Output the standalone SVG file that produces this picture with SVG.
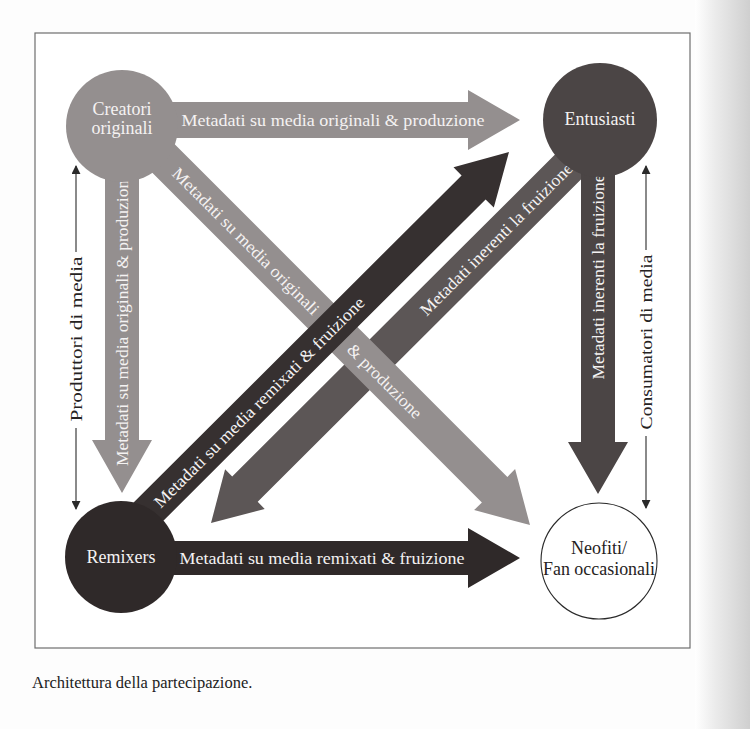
<svg xmlns="http://www.w3.org/2000/svg" width="750" height="729" viewBox="0 0 750 729">
  <defs>
    <linearGradient id="gutter" x1="0" y1="0" x2="1" y2="0">
      <stop offset="0" stop-color="#ffffff"/>
      <stop offset="0.35" stop-color="#ececec"/>
      <stop offset="1" stop-color="#cfcfcf"/>
    </linearGradient>
    <marker id="tri" viewBox="0 0 10 10" refX="9" refY="5" markerWidth="9" markerHeight="9" markerUnits="userSpaceOnUse" orient="auto">
      <path d="M0,0 L10,5 L0,10 z" fill="#2a2a2a"/>
    </marker>
    <style>
      .lbl { font-family: "Liberation Serif", "DejaVu Serif", serif; font-size: 17px; fill: #f4f2f2; }
      .node { font-family: "Liberation Serif", "DejaVu Serif", serif; font-size: 18px; fill: #f4f2f2; }
      .side { font-family: "Liberation Serif", "DejaVu Serif", serif; font-size: 17px; fill: #252222; }
      .nodedark { font-family: "Liberation Serif", "DejaVu Serif", serif; font-size: 18px; fill: #252222; }
      .cap { font-family: "Liberation Serif", "DejaVu Serif", serif; font-size: 16.5px; fill: #222; }
      .light { fill: #948f8f; }
      .ent { fill: #4b4545; }
      .mid { fill: #5c5656; }
      .dark { fill: #363030; }
      .rem { fill: #2f2929; }
      .guide { stroke: #2a2a2a; stroke-width: 1.1; fill: none; marker-end: url(#tri); }
    </style>
  </defs>

  <rect x="0" y="0" width="750" height="729" fill="#fdfdfd"/>
  <rect x="695" y="0" width="55" height="729" fill="url(#gutter)"/>
  <rect x="35" y="33" width="655" height="615" fill="#ffffff" stroke="#6e6e6e" stroke-width="1.2"/>

  <g id="connectors">
    <g id="e-entusiasti-remixers">
      <polygon class="mid" points="612.7,147.7 257.7,501.8 264.7,508.9 211,523 225.1,469.3 232.2,476.4 587.3,122.3"/>
      <text class="lbl" transform="translate(496,239) rotate(-45)" y="6" text-anchor="middle" textLength="208" lengthAdjust="spacingAndGlyphs">Metadati inerenti la fruizione</text>
    </g>
    <g id="e-creatori-neofiti">
      <polygon class="light" points="112.3,132.7 481.9,502.4 474.1,510.1 530,525 515.1,469.1 507.4,476.9 137.7,107.3"/>
      <text class="lbl" transform="translate(246,241) rotate(45)" y="6" text-anchor="middle" textLength="200" lengthAdjust="spacingAndGlyphs">Metadati su media originali</text>
      <text class="lbl" transform="translate(385,381) rotate(45)" y="6" text-anchor="middle" textLength="98" lengthAdjust="spacingAndGlyphs">&amp; produzione</text>
    </g>
    <g id="e-remixers-entusiasti">
      <polygon class="dark" points="122,562 485.6,199.4 493.8,207.6 509,152 453.5,167.2 461.6,175.4 98,538"/>
      <text class="lbl" transform="translate(259,402) rotate(-45)" y="6" text-anchor="middle" textLength="290" lengthAdjust="spacingAndGlyphs">Metadati su media remixati &amp; fruizione</text>
    </g>
    <g id="e-creatori-entusiasti">
      <polygon class="light" points="122,102 468,102 468,90 520,120 468,150 468,138 122,138"/>
      <text class="lbl" x="333" y="126" text-anchor="middle" textLength="303" lengthAdjust="spacingAndGlyphs">Metadati su media originali &amp; produzione</text>
    </g>
    <g id="e-creatori-remixers">
      <polygon class="light" points="105,125 105,440 92,440 122,493 152,440 139,440 139,125"/>
      <text class="lbl" transform="translate(122,319) rotate(-90)" y="6" text-anchor="middle" textLength="294" lengthAdjust="spacingAndGlyphs">Metadati su media originali &amp; produzione</text>
    </g>
    <g id="e-entusiasti-neofiti">
      <polygon class="ent" points="581,121 581,442 568,442 598,494 628,442 615,442 615,121"/>
      <text class="lbl" transform="translate(598,277) rotate(-90)" y="6" text-anchor="middle" textLength="205" lengthAdjust="spacingAndGlyphs">Metadati inerenti la fruizione</text>
    </g>
    <g id="e-remixers-neofiti">
      <polygon class="rem" points="121,541 468,541 468,528 520,558 468,588 468,575 121,575"/>
      <text class="lbl" x="322" y="564" text-anchor="middle" textLength="285" lengthAdjust="spacingAndGlyphs">Metadati su media remixati &amp; fruizione</text>
    </g>
    <g id="guides">
      <line class="guide" x1="76" y1="252" x2="76" y2="166"/>
      <line class="guide" x1="76" y1="428" x2="76" y2="509"/>
      <line class="guide" x1="646" y1="250" x2="646" y2="166"/>
      <line class="guide" x1="646" y1="436" x2="646" y2="508"/>
    </g>
  </g>

  <g id="n-creatori">
    <circle class="light" cx="122" cy="126" r="56"/>
    <text class="node" x="122" y="115" text-anchor="middle">Creatori</text>
    <text class="node" x="122" y="134" text-anchor="middle">originali</text>
  </g>
  <g id="n-entusiasti">
    <circle class="ent" cx="600" cy="120" r="57"/>
    <text class="node" x="600" y="125" text-anchor="middle">Entusiasti</text>
  </g>
  <g id="n-remixers">
    <circle class="rem" cx="121" cy="557" r="56"/>
    <text class="node" x="121" y="563" text-anchor="middle">Remixers</text>
  </g>
  <g id="n-neofiti">
    <circle cx="599" cy="561" r="58" fill="#ffffff" stroke="#2a2a2a" stroke-width="1.1"/>
    <text class="nodedark" x="599" y="554" text-anchor="middle">Neofiti/</text>
    <text class="nodedark" x="599" y="575" text-anchor="middle" textLength="112" lengthAdjust="spacingAndGlyphs">Fan occasionali</text>
  </g>

  <g id="side-labels">
    <text class="side" transform="translate(76,339) rotate(-90)" y="6" text-anchor="middle" textLength="165" lengthAdjust="spacingAndGlyphs">Produttori di media</text>
    <text class="side" transform="translate(646,342) rotate(-90)" y="6" text-anchor="middle" textLength="175" lengthAdjust="spacingAndGlyphs">Consumatori di media</text>
  </g>

  <text class="cap" x="32" y="688">Architettura della partecipazione.</text>
</svg>
